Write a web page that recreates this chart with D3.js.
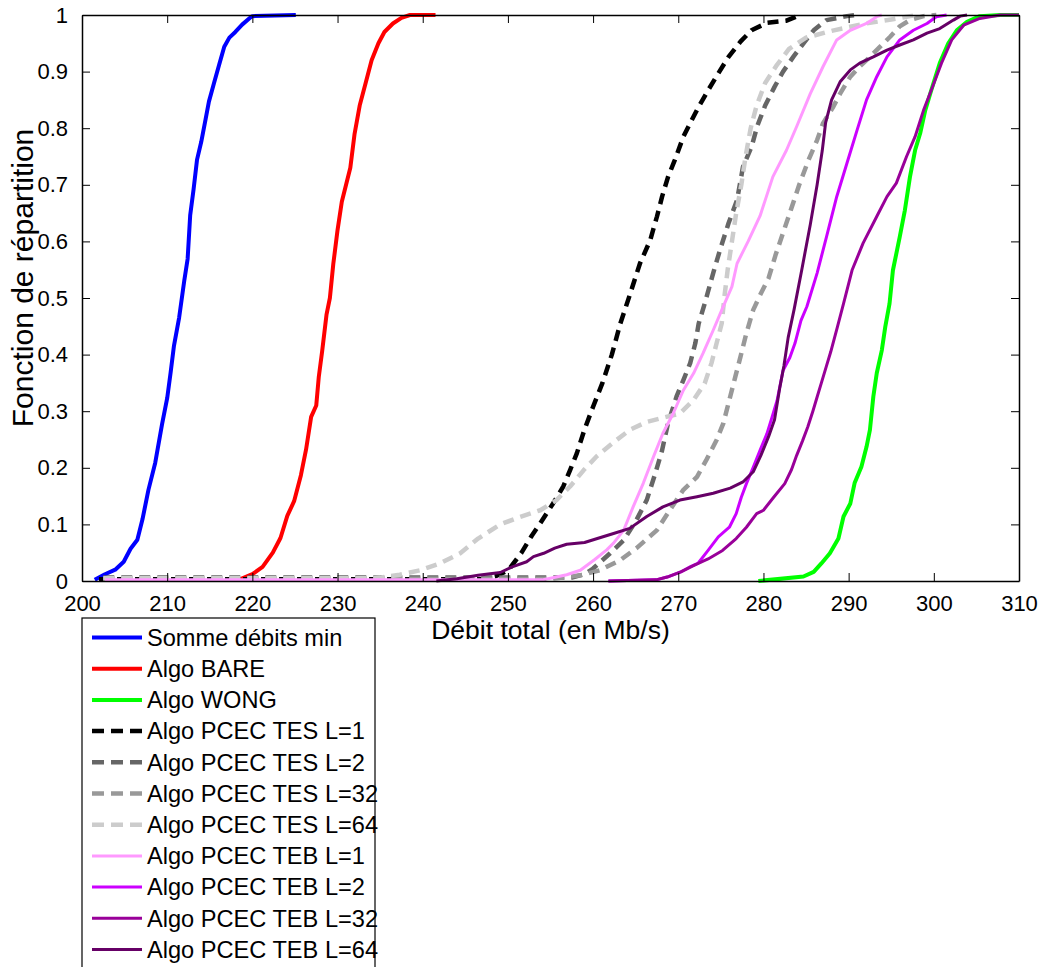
<!DOCTYPE html>
<html>
<head>
<meta charset="utf-8">
<script src="https://cdn.jsdelivr.net/npm/d3@7"></script>
<style>
  html, body { margin: 0; padding: 0; background: #fff; }
  svg { display: block; font-family: "Liberation Sans", Arial, sans-serif; }
</style>
</head>
<body>
<svg id="chart" width="1045" height="967"></svg>
<script>
// ---------- data ----------
const xTickValues = [200, 210, 220, 230, 240, 250, 260, 270, 280, 290, 300, 310];
const yTickValues = [0, 0.1, 0.2, 0.3, 0.4, 0.5, 0.6, 0.7, 0.8, 0.9, 1];
const yTickLabels = ["0", "0.1", "0.2", "0.3", "0.4", "0.5", "0.6", "0.7", "0.8", "0.9", "1"];
const xLabel = "Débit total (en Mb/s)";
const yLabel = "Fonction de répartition";

const seriesNames = [
  "Somme débits min", "Algo BARE", "Algo WONG",
  "Algo PCEC TES L=1", "Algo PCEC TES L=2", "Algo PCEC TES L=32", "Algo PCEC TES L=64",
  "Algo PCEC TEB L=1", "Algo PCEC TEB L=2", "Algo PCEC TEB L=32", "Algo PCEC TEB L=64"
];
const seriesColors = ["#0000ff", "#ff0000", "#00ff00", "#000000", "#666666", "#999999", "#cccccc",
  "#ff99ff", "#cc00ff", "#990099", "#660066"];
const seriesDashed = [false, false, false, true, true, true, true, false, false, false, false];
const seriesWidths = [4, 4, 4, 4.5, 4.5, 4.5, 4.5, 3, 3, 3, 3];

const sommeMin = [[201.5,0.002],[202.7,0.012],[203.9,0.02],[204.9,0.034],[205.7,0.057],[206.5,0.073],[207.1,0.109],[207.8,0.161],[208.6,0.209],[209.4,0.277],[210.0,0.323],[210.4,0.368],[210.8,0.416],[211.4,0.465],[212.0,0.53],[212.4,0.569],[212.7,0.646],[213.1,0.692],[213.5,0.744],[214.0,0.776],[214.5,0.815],[214.9,0.847],[215.5,0.88],[216.1,0.912],[216.7,0.944],[217.3,0.96],[218.0,0.97],[218.8,0.983],[219.8,0.996],[220.0,0.998],[225.1,1.0]];
const algoBare = [[218.4,0.002],[220.0,0.012],[221.2,0.025],[222.4,0.05],[223.3,0.076],[224.1,0.115],[224.9,0.141],[225.7,0.187],[226.3,0.232],[226.9,0.29],[227.5,0.31],[227.8,0.361],[228.2,0.407],[228.7,0.47],[229.1,0.5],[229.5,0.56],[230.0,0.62],[230.5,0.67],[231.0,0.7],[231.5,0.73],[232.0,0.79],[232.6,0.84],[233.3,0.88],[234.0,0.92],[234.8,0.95],[235.5,0.97],[236.5,0.985],[237.5,0.995],[238.5,1.0],[241.5,1.0]];
const algoWong = [[279.4,0.0],[284.7,0.008],[285.9,0.016],[286.8,0.031],[287.8,0.049],[288.8,0.075],[289.4,0.114],[290.2,0.137],[290.7,0.173],[291.5,0.202],[292.1,0.237],[292.5,0.267],[292.9,0.326],[293.3,0.367],[293.9,0.408],[294.3,0.449],[294.8,0.49],[295.2,0.549],[296.0,0.608],[296.6,0.655],[297.2,0.714],[297.8,0.761],[298.4,0.791],[299.0,0.832],[299.7,0.867],[300.7,0.915],[301.7,0.95],[302.7,0.973],[303.9,0.988],[305.4,0.998],[307.8,1.0],[310,1.0]];
const tesL1 = [[202.0,0.003],[247.0,0.003],[248.5,0.008],[249.5,0.015],[250.2,0.022],[251.6,0.05],[252.8,0.08],[253.8,0.102],[255.3,0.137],[256.5,0.167],[257.3,0.196],[258.1,0.226],[259.0,0.268],[260.0,0.308],[261.1,0.35],[262.2,0.4],[263.2,0.455],[264.3,0.505],[265.5,0.561],[266.7,0.602],[267.5,0.644],[268.1,0.679],[268.8,0.714],[269.6,0.744],[270.6,0.785],[271.4,0.809],[272.4,0.838],[273.5,0.867],[274.7,0.897],[275.9,0.926],[277.3,0.953],[278.6,0.973],[280.4,0.986],[282.7,0.99],[284.3,1.0]];
const tesL2 = [[202.5,0.006],[257.5,0.006],[259.0,0.012],[260.0,0.022],[262.0,0.049],[263.6,0.072],[265.1,0.108],[266.3,0.143],[267.3,0.19],[268.1,0.231],[268.8,0.279],[269.8,0.326],[270.6,0.355],[271.4,0.385],[272.0,0.42],[272.4,0.455],[273.1,0.49],[274.1,0.544],[274.9,0.585],[275.9,0.632],[276.9,0.673],[277.6,0.732],[278.6,0.767],[279.3,0.805],[280.2,0.84],[281.3,0.873],[282.3,0.9],[283.5,0.926],[284.7,0.95],[285.9,0.973],[287.4,0.991],[289.8,0.998],[291.0,1.0]];
const tesL32 = [[202.5,0.004],[255.0,0.004],[256.5,0.006],[258.5,0.01],[260.8,0.019],[263.2,0.037],[265.1,0.058],[267.5,0.09],[269.0,0.125],[270.6,0.161],[272.2,0.184],[273.3,0.214],[274.5,0.249],[275.3,0.279],[276.1,0.326],[276.7,0.361],[277.3,0.396],[278.0,0.438],[278.8,0.479],[279.6,0.505],[280.6,0.535],[281.4,0.575],[282.3,0.615],[283.2,0.655],[284.2,0.7],[285.3,0.744],[286.3,0.779],[287.0,0.809],[288.2,0.838],[289.0,0.861],[290.2,0.891],[291.3,0.909],[292.5,0.926],[293.7,0.944],[294.9,0.962],[296.0,0.98],[297.2,0.991],[298.8,0.998],[300.3,1.0]];
const tesL64 = [[202.5,0.005],[234.0,0.005],[235.0,0.006],[237.3,0.011],[239.7,0.019],[242.0,0.031],[244.4,0.049],[246.5,0.075],[249.1,0.1],[251.4,0.113],[253.8,0.125],[255.7,0.143],[257.3,0.167],[258.9,0.196],[260.4,0.22],[262.4,0.245],[264.3,0.267],[266.3,0.281],[268.6,0.29],[270.2,0.296],[271.8,0.32],[273.1,0.349],[273.9,0.385],[274.5,0.42],[275.1,0.455],[275.4,0.5],[275.8,0.55],[276.3,0.6],[276.8,0.65],[277.4,0.7],[277.9,0.75],[278.5,0.8],[279.2,0.84],[280.2,0.88],[281.5,0.91],[283.0,0.94],[285.0,0.96],[288.0,0.972],[292.0,0.985],[295.0,0.992],[298.0,1.0]];
const tebL1 = [[202.7,0.002],[254.0,0.002],[255.0,0.005],[256.9,0.011],[258.5,0.019],[260.2,0.038],[261.6,0.055],[262.4,0.067],[263.6,0.09],[264.7,0.131],[265.9,0.173],[267.1,0.22],[268.2,0.261],[269.4,0.296],[270.6,0.337],[271.8,0.367],[272.9,0.402],[274.1,0.443],[275.2,0.482],[276.3,0.52],[276.9,0.561],[278.2,0.6],[279.6,0.645],[281.1,0.714],[282.7,0.761],[283.9,0.803],[285.5,0.861],[287.0,0.909],[288.6,0.956],[290.2,0.973],[292.1,0.985],[293.3,0.997],[293.9,1.0]];
const tebL2 = [[261.8,0.0],[267.4,0.002],[268.7,0.007],[270.3,0.016],[271.5,0.026],[272.3,0.031],[273.5,0.054],[274.7,0.078],[276.0,0.095],[276.8,0.119],[277.4,0.148],[278.0,0.172],[278.8,0.201],[279.6,0.231],[280.4,0.26],[281.0,0.289],[281.6,0.319],[282.3,0.372],[283.1,0.395],[283.7,0.42],[284.4,0.46],[285.1,0.485],[286.3,0.544],[287.4,0.608],[288.6,0.679],[289.8,0.738],[291.0,0.797],[292.1,0.85],[293.3,0.891],[294.5,0.926],[296.0,0.956],[297.6,0.973],[299.2,0.985],[300.3,0.997],[301.5,1.0]];
const tebL32 = [[261.8,0.0],[267.4,0.002],[268.7,0.007],[270.3,0.016],[271.9,0.028],[273.5,0.039],[275.2,0.054],[276.8,0.075],[278.0,0.095],[279.2,0.119],[280.0,0.125],[281.2,0.148],[282.5,0.172],[283.3,0.197],[283.9,0.222],[284.6,0.248],[285.2,0.272],[285.8,0.3],[286.3,0.325],[286.8,0.35],[287.4,0.38],[287.9,0.405],[288.7,0.45],[289.4,0.49],[290.4,0.549],[291.7,0.597],[293.3,0.644],[294.5,0.679],[295.6,0.703],[296.8,0.75],[297.8,0.785],[298.8,0.832],[299.7,0.867],[300.9,0.915],[302.1,0.956],[303.5,0.982],[305.4,0.994],[307.8,1.0],[310,1.0]];
const tebL64 = [[241.6,0.0],[244.0,0.004],[246.5,0.01],[249.1,0.015],[250.5,0.025],[252.2,0.034],[253.0,0.043],[254.2,0.049],[255.5,0.058],[256.9,0.065],[259.0,0.068],[260.5,0.075],[262.4,0.084],[264.3,0.093],[266.3,0.114],[268.2,0.131],[270.2,0.143],[272.2,0.149],[274.1,0.155],[276.1,0.164],[277.6,0.175],[278.8,0.193],[279.7,0.222],[280.6,0.255],[281.3,0.285],[281.9,0.34],[282.4,0.38],[282.9,0.43],[283.6,0.48],[284.5,0.55],[285.5,0.63],[286.3,0.7],[286.9,0.76],[287.3,0.81],[288.0,0.85],[289.0,0.882],[290.2,0.903],[291.3,0.915],[292.9,0.926],[294.5,0.938],[296.0,0.947],[297.6,0.956],[299.2,0.968],[300.7,0.976],[302.3,0.991],[303.1,0.998],[303.9,1.0]];

const seriesData = [sommeMin, algoBare, algoWong, tesL1, tesL2, tesL32, tesL64, tebL1, tebL2, tebL32, tebL64];

// ---------- layout ----------
const svg = d3.select("#chart");
const plot = { left: 82, right: 1019, top: 15, bottom: 581 };

const x = d3.scaleLinear().domain([200, 310]).range([plot.left, plot.right]);
const y = d3.scaleLinear().domain([0, 1]).range([plot.bottom, plot.top]);

svg.append("rect").attr("width", 1045).attr("height", 967).attr("fill", "#fff");

svg.append("clipPath").attr("id", "clip")
  .append("rect").attr("x", plot.left - 2).attr("y", plot.top - 3)
  .attr("width", plot.right - plot.left + 4).attr("height", plot.bottom - plot.top + 5);

const line = d3.line().x(d => x(d[0])).y(d => y(d[1]));

const gLines = svg.append("g").attr("clip-path", "url(#clip)");
seriesData.forEach((data, i) => {
  gLines.append("path")
    .datum(data)
    .attr("d", line)
    .attr("fill", "none")
    .attr("stroke", seriesColors[i])
    .attr("stroke-width", seriesWidths[i])
    .attr("stroke-linejoin", "round")
    .attr("stroke-dasharray", seriesDashed[i] ? "11,7" : null);
});

// ---------- axes ----------
const tickLen = 8;
const fontTick = 22;

const xAxisB = d3.axisBottom(x).tickValues(xTickValues).tickSizeInner(-tickLen).tickSizeOuter(0).tickPadding(tickLen + 6).tickFormat(d3.format("d"));
const xAxisT = d3.axisTop(x).tickValues(xTickValues).tickSizeInner(-tickLen).tickSizeOuter(0).tickFormat("");
const yAxisL = d3.axisLeft(y).tickValues(yTickValues).tickSizeInner(-tickLen).tickSizeOuter(0).tickPadding(tickLen + 6).tickFormat((d, i) => yTickLabels[i]);
const yAxisR = d3.axisRight(y).tickValues(yTickValues).tickSizeInner(-tickLen).tickSizeOuter(0).tickFormat("");

function styleAxis(g) {
  g.selectAll(".domain").attr("stroke", "#000").attr("stroke-width", 1.5);
  g.selectAll(".tick line").attr("stroke", "#000").attr("stroke-width", 1);
  g.selectAll(".tick text").attr("fill", "#000").attr("font-size", fontTick)
    .attr("font-family", "Liberation Sans, Arial, sans-serif");
}

svg.append("g").attr("transform", `translate(0,${plot.bottom})`).call(xAxisB).call(styleAxis);
svg.append("g").attr("transform", `translate(0,${plot.top})`).call(xAxisT).call(styleAxis);
svg.append("g").attr("transform", `translate(${plot.left},0)`).call(yAxisL).call(styleAxis);
svg.append("g").attr("transform", `translate(${plot.right},0)`).call(yAxisR).call(styleAxis);

// axis labels
svg.append("text")
  .attr("x", (plot.left + plot.right) / 2).attr("y", 639)
  .attr("text-anchor", "middle").attr("font-size", 26.5).attr("fill", "#000")
  .text(xLabel);
svg.append("text")
  .attr("transform", `translate(33,${(plot.top + plot.bottom) / 2 - 20}) rotate(-90)`)
  .attr("text-anchor", "middle").attr("font-size", 30).attr("fill", "#000")
  .text(yLabel);

// ---------- legend ----------
const legend = svg.append("g");
const legTop = 618, legLeft = 82, legRight = 375, rowStart = 637.5, rowStep = 31.2;
legend.append("rect")
  .attr("x", legLeft).attr("y", legTop)
  .attr("width", legRight - legLeft).attr("height", 380)
  .attr("fill", "#fff").attr("stroke", "#000").attr("stroke-width", 1.2);

seriesNames.forEach((name, i) => {
  const cy = rowStart + i * rowStep;
  legend.append("line")
    .attr("x1", 92).attr("x2", 142).attr("y1", cy).attr("y2", cy)
    .attr("stroke", seriesColors[i])
    .attr("stroke-width", seriesWidths[i])
    .attr("stroke-dasharray", seriesDashed[i] ? "12,7" : null);
  legend.append("text")
    .attr("x", 147).attr("y", cy).attr("dy", "0.35em")
    .attr("font-size", 23.6).attr("fill", "#000")
    .text(name);
});
</script>
</body>
</html>
